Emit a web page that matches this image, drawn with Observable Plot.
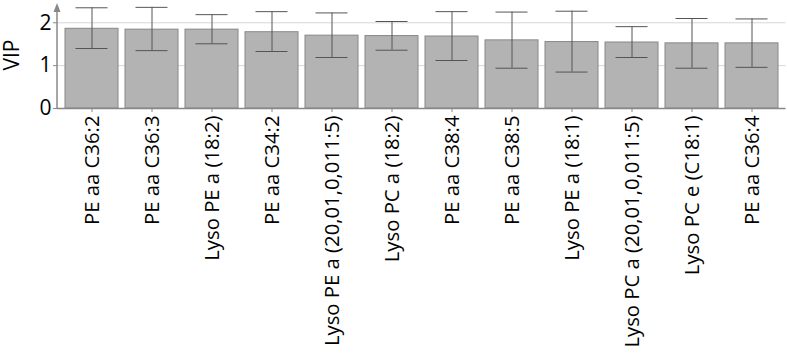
<!DOCTYPE html>
<html><head><meta charset="utf-8">
<script src="https://cdn.jsdelivr.net/npm/d3@7"></script>
<script src="https://cdn.jsdelivr.net/npm/@observablehq/plot@0.6"></script>
<style>body{margin:0;background:#fff;}</style>
</head><body><div id="chart"></div>
<script>
const categories = ["PE aa C36:2","PE aa C36:3","Lyso PE a (18:2)","PE aa C34:2","Lyso PE a (20,01,0,011:5)","Lyso PC a (18:2)","PE aa C38:4","PE aa C38:5","Lyso PE a (18:1)","Lyso PC a (20,01,0,011:5)","Lyso PC e (C18:1)","PE aa C36:4"];
const vip   = [1.86,1.84,1.84,1.78,1.70,1.69,1.68,1.59,1.55,1.54,1.52,1.52];
const errHi = [2.35,2.36,2.19,2.26,2.23,2.03,2.26,2.25,2.27,1.91,2.10,2.09];
const errLo = [1.40,1.35,1.51,1.33,1.19,1.36,1.12,0.94,0.85,1.19,0.94,0.96];
const yTicks = [0,1,2];

const data = categories.map((c,i)=>({c, v:vip[i], hi:errHi[i], lo:errLo[i]}));
const W = 787, H = 359, mL = 57, mR = 1.5, mT = 3, mB = 251;
const plot = Plot.plot({
  width: W, height: H,
  marginLeft: mL, marginRight: mR, marginTop: mT, marginBottom: mB,
  style: {fontFamily: '"Open Sans",sans-serif', fontSize: "20px", color: "#000", background: "#fff"},
  x: {domain: categories, paddingInner: 0.11, paddingOuter: 0.055, label: null},
  y: {domain: [0, 2.45], label: null},
  marks: [
    Plot.gridY(yTicks, {stroke: "#ccc", strokeOpacity: 1, strokeWidth: 0.8}),
    Plot.barY(data, {x: "c", y: "v", fill: "#b3b3b3", stroke: "#888", strokeWidth: 1}),
    Plot.ruleX(data, {x: "c", y1: "lo", y2: "hi", stroke: "#555", strokeWidth: 1}),
    Plot.tickY(data, {x: "c", y: "hi", stroke: "#555", strokeWidth: 1, inset: 10.5}),
    Plot.tickY(data, {x: "c", y: "lo", stroke: "#555", strokeWidth: 1, inset: 10.5}),
    Plot.axisY({ticks: yTicks, tickFormat: d3.format("d"), tickSize: 4, tickPadding: 2, label: null, stroke: "#888"}),
    Plot.axisX({tickRotate: -90, tickSize: 4, tickPadding: 3, label: null, stroke: "#888"}),
    Plot.ruleY([0], {stroke: "#888", strokeWidth: 1.5})
  ]
});
const svg = d3.select(plot);
svg.selectAll("g[aria-label='x-axis tick label'] text").style("font-size", "20.3px");
svg.selectAll("g[aria-label='y-axis tick label'] text").style("font-size", "21px");
svg.selectAll("text").style("font-family", '"Open Sans",sans-serif').attr("fill", "#000");
// y axis line with arrow
const y0 = plot.scale("y").apply(0);
svg.append("line").attr("x1", mL).attr("x2", mL).attr("y1", y0).attr("y2", mT + 6)
  .attr("stroke", "#888").attr("stroke-width", 1.5);
svg.append("path").attr("d", `M${mL-3.5},${mT+9} L${mL},${mT} L${mL+3.5},${mT+9} Z`).attr("fill", "#888");
svg.append("text").attr("transform", `translate(19,55) rotate(-90)`)
  .attr("text-anchor", "middle").attr("fill", "#000")
  .style("font-size", "21px").style("font-family", '"Open Sans",sans-serif').text("VIP");
document.getElementById("chart").appendChild(plot);
</script></body></html>
